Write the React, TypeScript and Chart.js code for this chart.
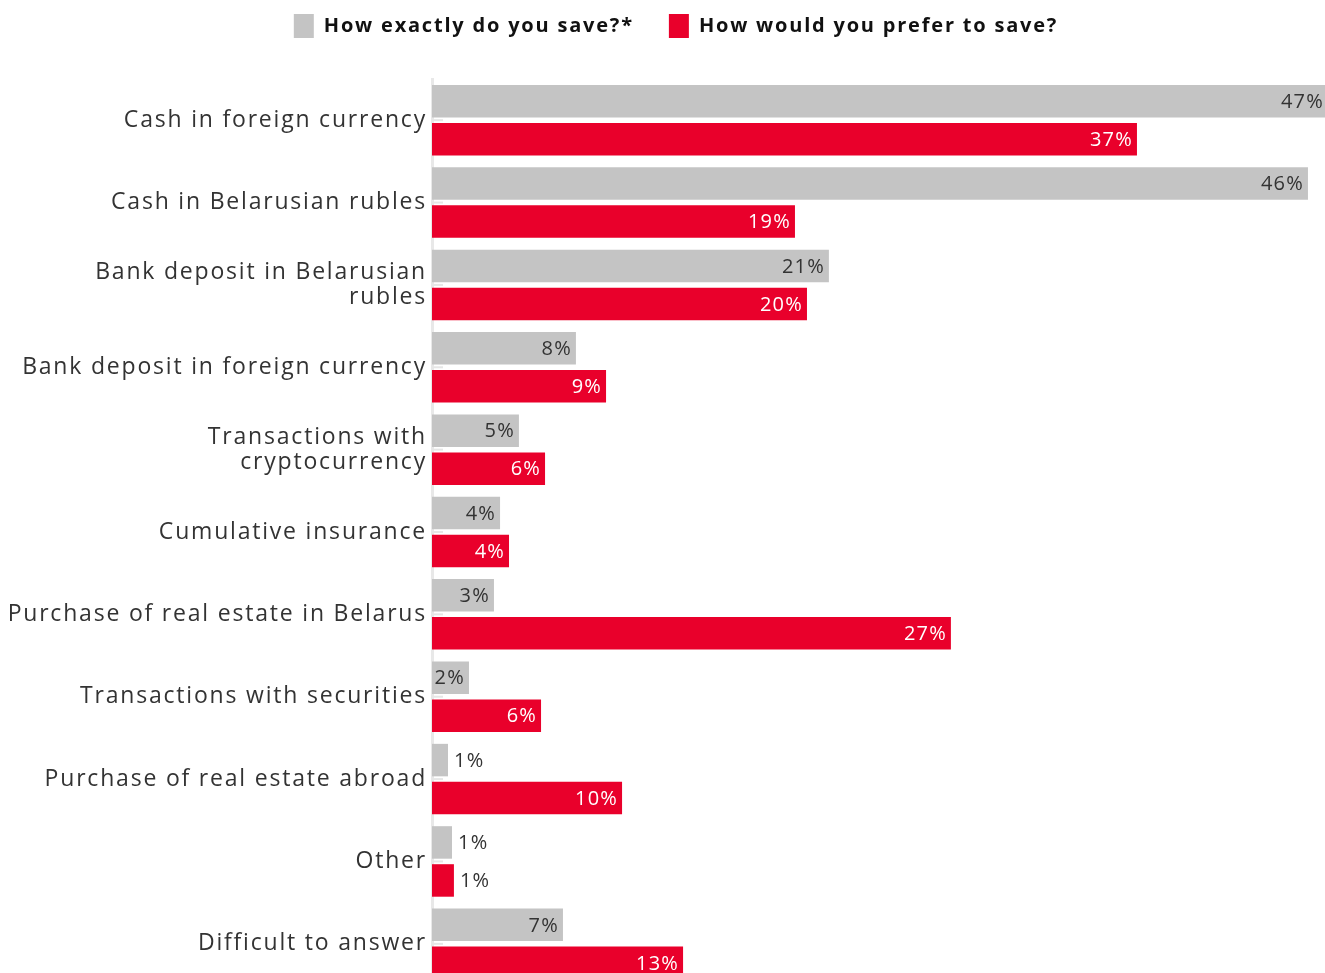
import React, { useEffect, useRef } from "react";
import { Chart, registerables } from "chart.js";

Chart.register(...registerables);

const categories: (string | string[])[] = [
  "Cash in foreign currency",
  "Cash in Belarusian rubles",
  ["Bank deposit in Belarusian", "rubles"],
  "Bank deposit in foreign currency",
  ["Transactions with", "cryptocurrency"],
  "Cumulative insurance",
  "Purchase of real estate in Belarus",
  "Transactions with securities",
  "Purchase of real estate abroad",
  "Other",
  "Difficult to answer",
];

const actualValues = [47, 45.95, 20.82, 7.55, 4.56, 3.57, 3.25, 1.94, 0.84, 1.05, 6.87];
const preferValues = [36.98, 19.04, 19.67, 9.13, 5.93, 4.04, 27.22, 5.72, 9.97, 1.15, 13.17];

const seriesNames = ["How exactly do you save?*", "How would you prefer to save?"];

const X_MAX = 48.26;

const GRAY = "#c4c4c4";
const RED = "#e9002b";
const FONT = "'Open Sans', sans-serif";
const SPACING = "1.8px";

const spacingPlugin = {
  id: "spacing",
  beforeUpdate(chart: any) {
    chart.ctx.letterSpacing = SPACING;
  },
  beforeLayout(chart: any) {
    chart.ctx.letterSpacing = SPACING;
  },
  beforeDraw(chart: any) {
    chart.ctx.letterSpacing = SPACING;
  },
};

const legendMargin = {
  id: "legendMargin",
  beforeInit(chart: any) {
    const legend = chart.legend;
    if (!legend) return;
    const orig = legend.fit;
    legend.fit = function () {
      orig.call(this);
      this.height = 79;
    };
  },
};

const innerTicks = {
  id: "innerTicks",
  beforeDatasetsDraw(chart: any) {
    const ctx = chart.ctx;
    const y = chart.scales.y;
    ctx.save();
    ctx.strokeStyle = "#e6e6e6";
    ctx.lineWidth = 2;
    for (let i = 0; i < y.ticks.length; i++) {
      const py = y.getPixelForTick(i);
      ctx.beginPath();
      ctx.moveTo(chart.chartArea.left, py);
      ctx.lineTo(chart.chartArea.left + 11, py);
      ctx.stroke();
    }
    ctx.restore();
  },
};

const valueLabels = {
  id: "valueLabels",
  afterDatasetsDraw(chart: any) {
    const ctx = chart.ctx;
    ctx.save();
    ctx.letterSpacing = "1.2px";
    ctx.font = `20px ${FONT}`;
    ctx.textBaseline = "middle";
    chart.data.datasets.forEach((ds: any, di: number) => {
      const meta = chart.getDatasetMeta(di);
      meta.data.forEach((bar: any, i: number) => {
        const v = ds.data[i];
        const text = `${Math.round(v)}%`;
        const w = ctx.measureText(text).width;
        const barW = bar.x - bar.base;
        if (w + 4 <= barW) {
          ctx.textAlign = "right";
          ctx.fillStyle = di === 1 ? "#ffffff" : "#333333";
          ctx.fillText(text, bar.x - 4, bar.y + 1);
        } else {
          ctx.textAlign = "left";
          ctx.fillStyle = "#333333";
          ctx.fillText(text, bar.x + 6, bar.y + 1);
        }
      });
    });
    ctx.restore();
  },
};

export default function App() {
  const ref = useRef<HTMLCanvasElement | null>(null);
  useEffect(() => {
    document.body.style.margin = "0";
    document.body.style.overflow = "hidden";
    if (!ref.current) return;
    const chart = new Chart(ref.current, {
      type: "bar",
      data: {
        labels: categories,
        datasets: [
          {
            label: seriesNames[0],
            data: actualValues,
            backgroundColor: GRAY,
            categoryPercentage: 0.923,
            barPercentage: 0.855,
          },
          {
            label: seriesNames[1],
            data: preferValues,
            backgroundColor: RED,
            categoryPercentage: 0.923,
            barPercentage: 0.855,
          },
        ],
      },
      options: {
        indexAxis: "y",
        animation: false,
        responsive: false,
        layout: { autoPadding: false, padding: 0 },
        plugins: {
          legend: {
            position: "top",
            labels: {
              boxWidth: 20,
              boxHeight: 24,
              color: "#111111",
              font: { family: FONT, size: 20, weight: "bold" },
              padding: 14,
              generateLabels(c: any) {
                const items = Chart.defaults.plugins.legend.labels.generateLabels(c);
                if (items.length > 1) items[0].text = items[0].text + "   ";
                return items;
              },
            },
          },
          tooltip: { enabled: false },
        },
        scales: {
          x: {
            display: false,
            min: 0,
            max: X_MAX,
          },
          y: {
            afterFit(scale: any) {
              scale.width = 432;
              scale.paddingTop = 0;
              scale.paddingBottom = 0;
            },
            grid: { display: false, drawTicks: false },
            border: { display: true, color: "#e8e8e8", width: 3 },
            ticks: {
              color: "#333333",
              padding: 5,
              font: { family: FONT, size: 23, lineHeight: 1.1 },
            },
          },
        },
      },
      plugins: [spacingPlugin, legendMargin, innerTicks, valueLabels],
    });
    return () => chart.destroy();
  }, []);
  return (
    <div style={{ width: 1325, height: 973, overflow: "hidden", position: "relative" }}>
      <canvas ref={ref} width={1352} height={985} style={{ display: "block" }} />
    </div>
  );
}
